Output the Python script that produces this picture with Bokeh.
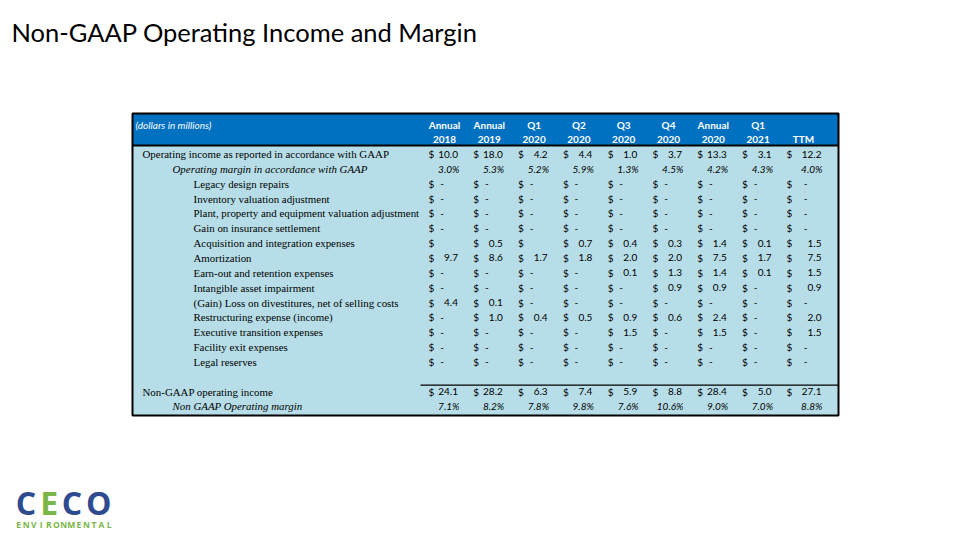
from bokeh.plotting import figure
from bokeh.models import ColumnDataSource, Range1d
from bokeh.core.properties import value
from bokeh.embed import file_html
from bokeh.resources import INLINE

# ---------------- data ----------------
title = "Non-GAAP Operating Income and Margin"
unit_note = "(dollars in millions)"
col_top = ["Annual", "Annual", "Q1", "Q2", "Q3", "Q4", "Annual", "Q1", ""]
col_bottom = ["2018", "2019", "2020", "2020", "2020", "2020", "2020", "2021", "TTM"]

gaap_income_label = "Operating income as reported in accordance with GAAP"
gaap_margin_label = "Operating margin in accordance with GAAP"
nongaap_income_label = "Non-GAAP operating income"
nongaap_margin_label = "Non GAAP Operating margin"

gaap_income = [10.0, 18.0, 4.2, 4.4, 1.0, 3.7, 13.3, 3.1, 12.2]
gaap_margin = [3.0, 5.3, 5.2, 5.9, 1.3, 4.5, 4.2, 4.3, 4.0]

adj_labels = [
    "Legacy design repairs",
    "Inventory valuation adjustment",
    "Plant, property and equipment valuation adjustment",
    "Gain on insurance settlement",
    "Acquisition and integration expenses",
    "Amortization",
    "Earn-out and retention expenses",
    "Intangible asset impairment",
    "(Gain) Loss on divestitures, net of selling costs",
    "Restructuring expense (income)",
    "Executive transition expenses",
    "Facility exit expenses",
    "Legal reserves",
]
# 0 is shown as "-", None as blank
legacy_design = [0, 0, 0, 0, 0, 0, 0, 0, 0]
inventory_valuation = [0, 0, 0, 0, 0, 0, 0, 0, 0]
ppe_valuation = [0, 0, 0, 0, 0, 0, 0, 0, 0]
insurance_gain = [0, 0, 0, 0, 0, 0, 0, 0, 0]
acquisition = [None, 0.5, None, 0.7, 0.4, 0.3, 1.4, 0.1, 1.5]
amortization = [9.7, 8.6, 1.7, 1.8, 2.0, 2.0, 7.5, 1.7, 7.5]
earn_out = [0, 0, 0, 0, 0.1, 1.3, 1.4, 0.1, 1.5]
intangible_impairment = [0, 0, 0, 0, 0, 0.9, 0.9, 0, 0.9]
divestitures = [4.4, 0.1, 0, 0, 0, 0, 0, 0, 0]
restructuring = [0, 1.0, 0.4, 0.5, 0.9, 0.6, 2.4, 0, 2.0]
executive_transition = [0, 0, 0, 0, 1.5, 0, 1.5, 0, 1.5]
facility_exit = [0, 0, 0, 0, 0, 0, 0, 0, 0]
legal_reserves = [0, 0, 0, 0, 0, 0, 0, 0, 0]
adj_values = [legacy_design, inventory_valuation, ppe_valuation, insurance_gain,
              acquisition, amortization, earn_out, intangible_impairment,
              divestitures, restructuring, executive_transition, facility_exit,
              legal_reserves]

nongaap_income = [24.1, 28.2, 6.3, 7.4, 5.9, 8.8, 28.4, 5.0, 27.1]
nongaap_margin = [7.1, 8.2, 7.8, 9.8, 7.6, 10.6, 9.0, 7.0, 8.8]

logo_word = "CECO"
logo_sub = "ENVIRONMENTAL"

# ---------------- layout / style ----------------
HEADER_BLUE = "#0070C0"
BODY_BLUE = "#B7DEE8"
NAVY = "#2D4B8E"
GREEN = "#7AB648"
SERIF = value("Liberation Serif")
SANS = value("Lato")

TX0, TX1, TY0, TY1 = 132, 838, 113, 415
HEAD_BOTTOM = 145
ROW0, ROW_H = 153.5, 14.85

def row_y(i):
    return ROW0 + i * ROW_H

def dollar_x(j):
    return 428 + j * 44.8 if j < 8 else 786

def right_x(j):
    return dollar_x(j) + 29.5 if j < 8 else 821

def fmt(v):
    return f"{v:.1f}"

p = figure(width=952, height=532, x_range=Range1d(0, 952), y_range=Range1d(532, 0),
           output_backend="svg", toolbar_location=None, min_border=0)
p.axis.visible = False
p.grid.visible = False
p.outline_line_color = None
p.background_fill_color = "white"
p.border_fill_color = "white"

# title (middle of the text box)
p.text(x=[11], y=[31.5], text=[title], text_font=SANS, text_font_size="25.5px",
       text_color="black", text_baseline="middle", text_align="left")

# table backgrounds
p.quad(left=[TX0], right=[TX1], top=[HEAD_BOTTOM], bottom=[TY1], fill_color=BODY_BLUE, line_color=None)
p.quad(left=[TX0], right=[TX1], top=[TY0], bottom=[HEAD_BOTTOM], fill_color=HEADER_BLUE, line_color=None)
p.segment(x0=[TX0], y0=[HEAD_BOTTOM], x1=[TX1], y1=[HEAD_BOTTOM], line_color="black", line_width=2)
p.quad(left=[TX0], right=[TX1], top=[TY0], bottom=[TY1], fill_color=None, line_color="black", line_width=2)

# header
p.text(x=[135], y=[124], text=[unit_note], text_font=SANS, text_font_size="10px",
       text_font_style="italic", text_color="white", text_baseline="middle")
hx = [dollar_x(j) + 16 if j < 8 else 803 for j in range(9)]
p.text(x=hx, y=[124] * 9, text=col_top, text_font=SANS, text_font_size="10px",
       text_font_style="bold", text_color="white", text_align="center", text_baseline="middle")
p.text(x=hx, y=[138.5] * 9, text=col_bottom, text_font=SANS, text_font_size="10px",
       text_font_style="bold", text_color="white", text_align="center", text_baseline="middle")

# build rows
labels = {"x": [], "y": [], "t": []}
labels_it = {"x": [], "y": [], "t": []}
dollars = {"x": [], "y": [], "t": []}
nums = {"x": [], "y": [], "t": []}
dashes = {"x": [], "y": [], "t": []}
pcts = {"x": [], "y": [], "t": []}

def add(d, x, y, t):
    d["x"].append(x); d["y"].append(y); d["t"].append(t)

def money_row(i, vals):
    y = row_y(i)
    for j, v in enumerate(vals):
        add(dollars, dollar_x(j), y, "$")
        if v is None:
            continue
        if v == 0:
            add(dashes, right_x(j) - 16, y, "-")
        else:
            add(nums, right_x(j), y, fmt(v))

def pct_row(i, vals):
    y = row_y(i)
    for j, v in enumerate(vals):
        add(pcts, right_x(j) + (1.5 if j < 8 else 1), y, f"{v:.1f}%")

add(labels, 142, row_y(0), gaap_income_label)
money_row(0, gaap_income)
add(labels_it, 172, row_y(1), gaap_margin_label)
pct_row(1, gaap_margin)
for k, (lab, vals) in enumerate(zip(adj_labels, adj_values)):
    add(labels, 193, row_y(2 + k), lab)
    money_row(2 + k, vals)
n_ng = 2 + len(adj_labels) + 1
add(labels, 142, row_y(n_ng), nongaap_income_label)
money_row(n_ng, nongaap_income)
add(labels_it, 172, row_y(n_ng + 1), nongaap_margin_label)
pct_row(n_ng + 1, nongaap_margin)

p.text(x="x", y="y", text="t", source=ColumnDataSource(labels), text_font=SERIF,
       text_font_size="10.9px", text_color="black", text_baseline="middle", text_align="left")
p.text(x="x", y="y", text="t", source=ColumnDataSource(labels_it), text_font=SERIF,
       text_font_size="10.9px", text_font_style="italic", text_color="black",
       text_baseline="middle", text_align="left")
p.text(x="x", y="y", text="t", source=ColumnDataSource(dollars), text_font=SANS,
       text_font_size="10px", text_color="black", text_baseline="middle", text_align="left")
p.text(x="x", y="y", text="t", source=ColumnDataSource(nums), text_font=SANS,
       text_font_size="10px", text_color="black", text_baseline="middle", text_align="right")
p.text(x="x", y="y", text="t", source=ColumnDataSource(dashes), text_font=SANS,
       text_font_size="10px", text_color="black", text_baseline="middle", text_align="center")
p.text(x="x", y="y", text="t", source=ColumnDataSource(pcts), text_font=SANS,
       text_font_size="10px", text_font_style="italic", text_color="black",
       text_baseline="middle", text_align="right")

# rule above non-GAAP total
sep_y = (row_y(n_ng - 1) + row_y(n_ng)) / 2 + 1
p.segment(x0=[420], y0=[sep_y], x1=[TX1], y1=[sep_y], line_color="black", line_width=1.2)

# logo
logo_colors = [NAVY, GREEN, NAVY, NAVY]
lx = [25.5, 48.7, 71.5, 98.3]
p.text(x=lx, y=[502] * 4, text=list(logo_word), text_color=logo_colors, text_font=value("Open Sans"),
       text_font_size="32px", text_font_style="bold", text_baseline="middle", text_align="center")
n_sub = len(logo_sub)
ex = [14.3 + (k + 0.5) * 98 / n_sub for k in range(n_sub)]
p.text(x=ex, y=[524.3] * n_sub, text=list(logo_sub), text_color=GREEN, text_font=value("Open Sans"),
       text_font_size="8.5px", text_font_style="bold", text_baseline="middle", text_align="center")

open("out.html", "w").write(file_html(p, INLINE))
